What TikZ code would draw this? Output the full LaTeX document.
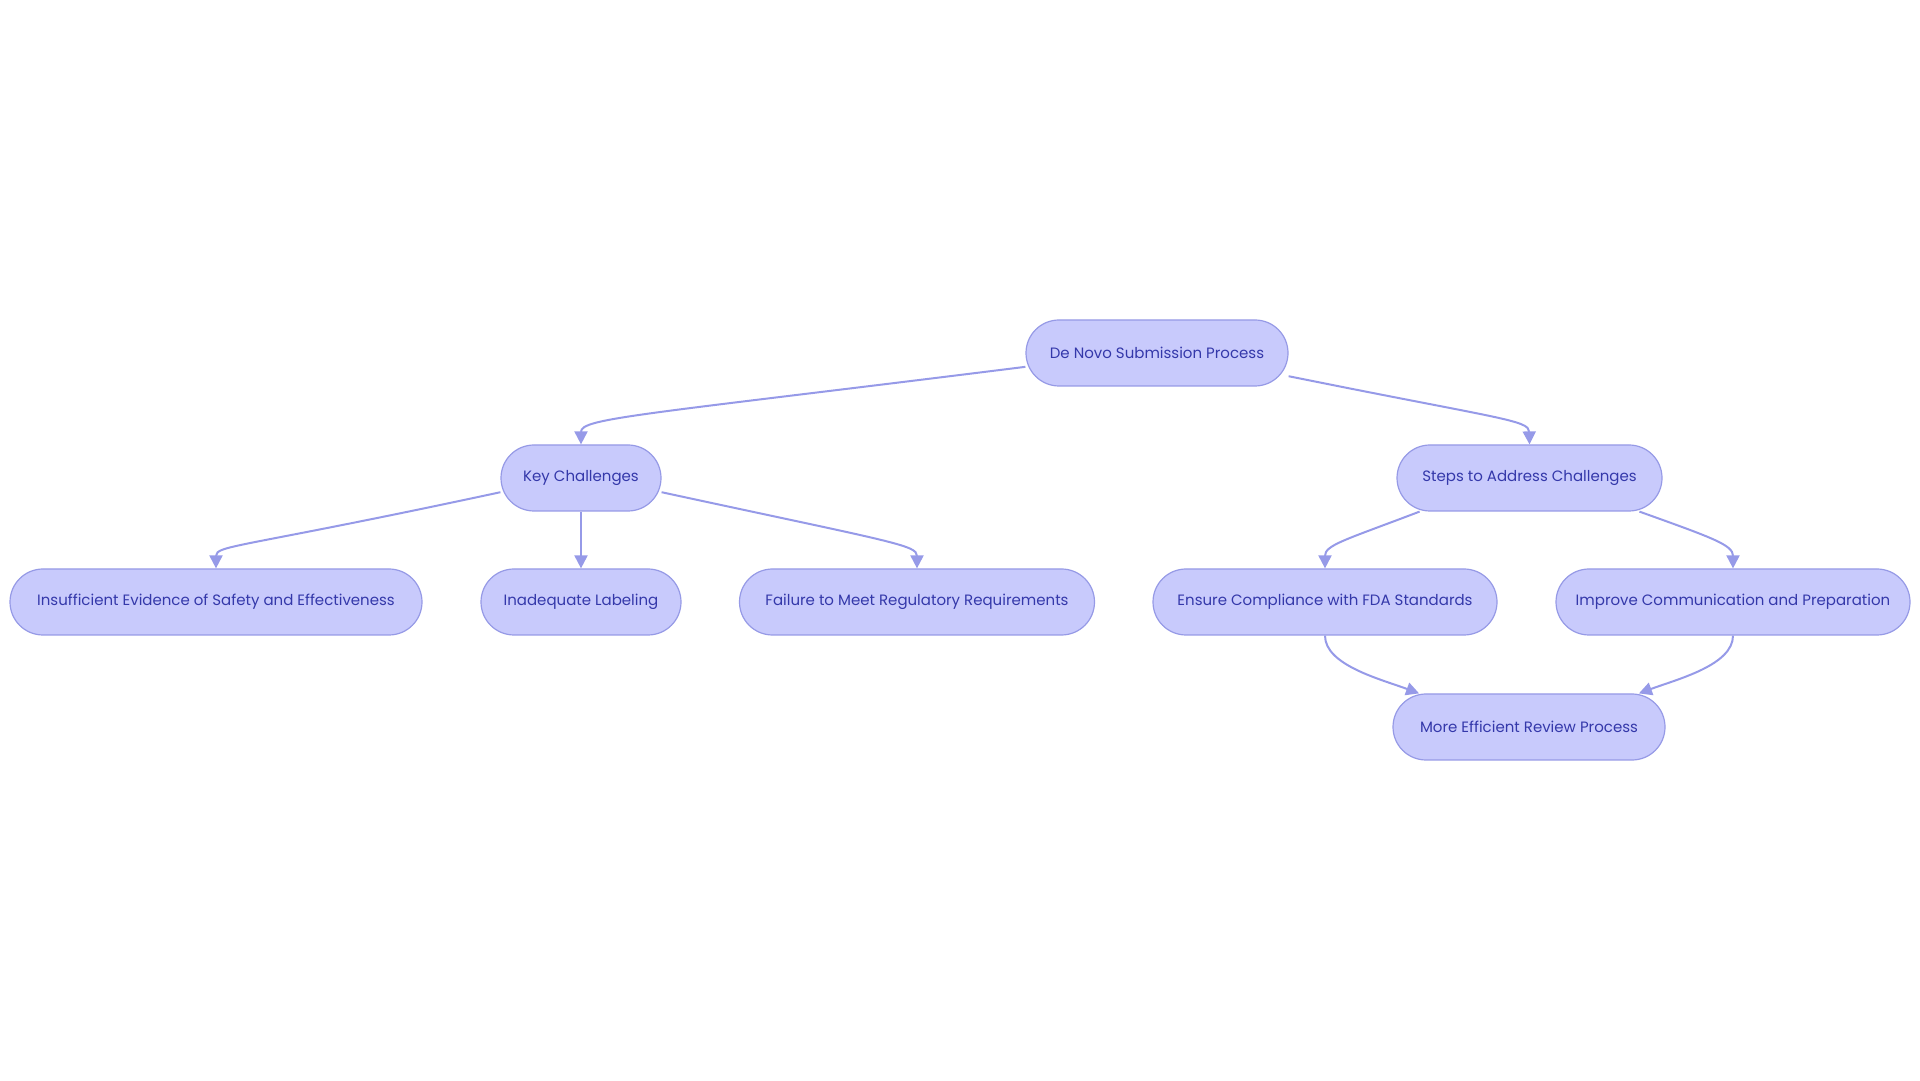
\documentclass[tikz,border=0pt]{standalone}
\usepackage{fontspec}
\setmainfont{Poppins}
\usetikzlibrary{arrows.meta}
\definecolor{BoxFill}{RGB}{200,202,252}
\definecolor{BoxLine}{RGB}{150,154,230}
\definecolor{BoxText}{RGB}{52,56,170}
\definecolor{LinkLine}{RGB}{150,154,232}
\begin{document}
\begin{tikzpicture}[x=1pt,y=1pt,>={Triangle[length=13pt,width=13pt]},
  box/.style={draw=BoxLine,fill=BoxFill,line width=1.2pt,rounded corners=33pt,minimum height=66pt,inner xsep=0pt,text=BoxText,font=\fontsize{15}{17}\selectfont},
  link/.style={->,draw=LinkLine,line width=2pt}]
\useasboundingbox (0,0) rectangle (1920,1080);
% top and second row
\node[box,minimum width=262pt] (denovo) at (1157,727) {De Novo Submission Process};
\node[box,minimum width=160pt] (keych) at (581,602) {Key Challenges};
\node[box,minimum width=265pt] (steps) at (1529.5,602) {Steps to Address Challenges};
% third row
\node[box,minimum width=412pt] (evid) at (216,478) {Insufficient Evidence of Safety and Effectiveness};
\node[box,minimum width=200pt] (label) at (581,478) {Inadequate Labeling};
\node[box,minimum width=355pt] (regul) at (917,478) {Failure to Meet Regulatory Requirements};
\node[box,minimum width=344pt] (fda) at (1325,478) {Ensure Compliance with FDA Standards};
\node[box,minimum width=354pt] (comm) at (1733,478) {Improve Communication and Preparation};
% last row
\node[box,minimum width=272pt] (review) at (1529,353) {More Efficient Review Process};
% links
\draw[link] (denovo.186) .. controls (640,665) and (581,662) .. (keych.north);
\draw[link] (denovo.350.5) .. controls (1500,661) and (1529,660) .. (steps.north);
\draw[link] (keych.190) .. controls (241,532) and (216,535) .. (evid.north);
\draw[link] (keych.south) -- (label.north);
\draw[link] (keych.350) .. controls (892,538) and (917,535) .. (regul.north);
\draw[link] (steps.197) .. controls (1345,540) and (1325,535) .. (fda.north);
\draw[link] (steps.343) .. controls (1713,542) and (1733,535) .. (comm.north);
\draw[link] (fda.south) .. controls (1325,415) and (1380,401) .. (review.163);
\draw[link] (comm.south) .. controls (1733,415) and (1678,401) .. (review.17);
\end{tikzpicture}
\end{document}
